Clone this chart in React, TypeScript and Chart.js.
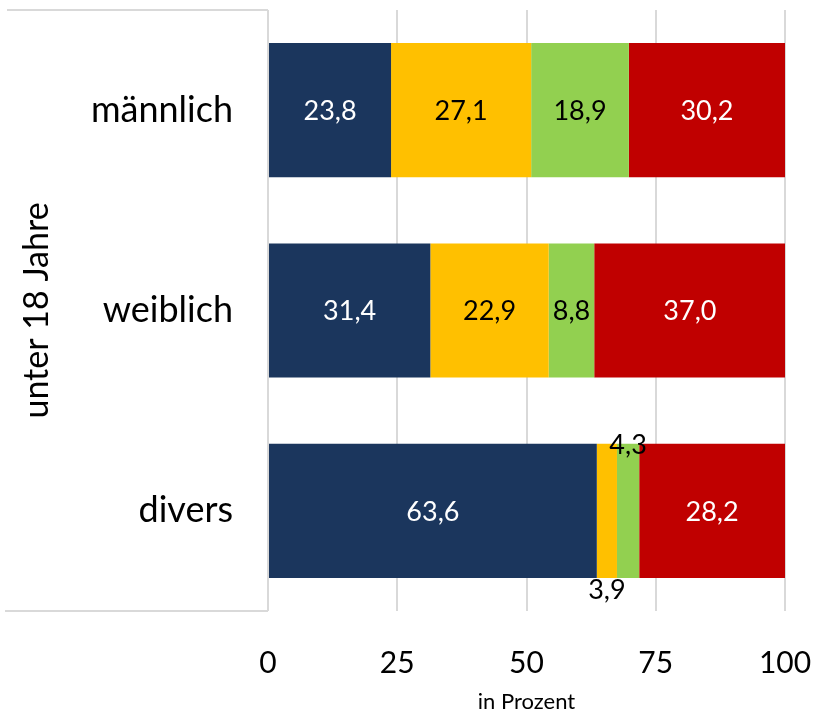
import React, { useEffect, useRef } from 'react';
import { Chart, registerables } from 'chart.js';

Chart.register(...registerables);

const categories = ['männlich', 'weiblich', 'divers'];
const groupLabel = 'unter 18 Jahre';
const seriesNames = ['Kategorie 1', 'Kategorie 2', 'Kategorie 3', 'Kategorie 4'];
const series1 = [23.8, 31.4, 63.6];
const series2 = [27.1, 22.9, 3.9];
const series3 = [18.9, 8.8, 4.3];
const series4 = [30.2, 37.0, 28.2];
const seriesColors = ['#1b365d', '#ffc000', '#92d050', '#c00000'];
const labelColors = ['#ffffff', '#000000', '#000000', '#ffffff'];
const xTicks = [0, 25, 50, 75, 100];
const axisTitle = 'in Prozent';

const FONT = 'Lato, "Open Sans", sans-serif';
const GRID = '#d9d9d9';

const zeroPadding = (scale: any) => {
  scale.paddingTop = 0;
  scale.paddingBottom = 0;
  scale.paddingLeft = 0;
  scale.paddingRight = 0;
};

const labelsPlugin = {
  id: 'barLabels',
  afterDatasetsDraw(chart: any) {
    const ctx = chart.ctx;
    ctx.save();
    ctx.font = `27px ${FONT}`;
    ctx.textAlign = 'center';
    ctx.textBaseline = 'middle';
    chart.data.datasets.forEach((ds: any, di: number) => {
      const meta = chart.getDatasetMeta(di);
      meta.data.forEach((el: any, i: number) => {
        const v = ds.data[i] as number;
        const txt = v.toFixed(1).replace('.', ',');
        const { x, y, base, height } = el.getProps(['x', 'y', 'base', 'height'], true);
        const w = Math.abs(x - base);
        const tw = ctx.measureText(txt).width;
        let cx = (x + base) / 2;
        let cy = y + 1;
        let color = labelColors[di];
        if (tw + 4 > w) {
          color = '#000000';
          if (di % 2 === 1) cy = y + height / 2 + 12;
          else cy = y - height / 2 + 2;
        }
        ctx.fillStyle = color;
        ctx.fillText(txt, cx, cy);
      });
    });
    ctx.restore();
  },
};

const groupPlugin = {
  id: 'groupBox',
  afterDraw(chart: any) {
    const { ctx, chartArea } = chart;
    ctx.save();
    ctx.strokeStyle = GRID;
    ctx.lineWidth = 2;
    ctx.beginPath();
    ctx.moveTo(7, chartArea.top);
    ctx.lineTo(chartArea.left, chartArea.top);
    ctx.moveTo(5, chartArea.bottom);
    ctx.lineTo(chartArea.left, chartArea.bottom);
    ctx.stroke();
    ctx.translate(37, (chartArea.top + chartArea.bottom) / 2);
    ctx.rotate(-Math.PI / 2);
    ctx.font = `34px ${FONT}`;
    ctx.fillStyle = '#000000';
    ctx.textAlign = 'center';
    ctx.textBaseline = 'middle';
    ctx.fillText(groupLabel, 0, 0);
    ctx.restore();
  },
};

export default function App() {
  const ref = useRef<HTMLCanvasElement>(null);
  useEffect(() => {
    if (!ref.current) return;
    const data = [series1, series2, series3, series4];
    const chart = new Chart(ref.current, {
      type: 'bar',
      data: {
        labels: categories,
        datasets: data.map((d, i) => ({
          label: seriesNames[i],
          data: d,
          backgroundColor: seriesColors[i],
          borderWidth: 0,
          categoryPercentage: 0.67,
          barPercentage: 1,
        })),
      },
      options: {
        indexAxis: 'y',
        responsive: false,
        animation: false,
        layout: { autoPadding: false, padding: { top: 10, right: 30, bottom: 0, left: 0 } },
        plugins: {
          legend: { display: false },
          tooltip: { enabled: false },
        },
        scales: {
          x: {
            stacked: true,
            min: 0,
            max: 100,
            afterBuildTicks: (scale: any) => {
              scale.ticks = xTicks.map((v) => ({ value: v }));
            },
            afterFit: (scale: any) => {
              scale.height = 106;
              zeroPadding(scale);
            },
            grid: { color: GRID, lineWidth: 2, drawTicks: false },
            border: { display: false },
            ticks: {
              padding: 34,
              color: '#000000',
              font: { family: FONT, size: 30 },
              maxRotation: 0,
            },
            title: {
              display: true,
              text: axisTitle,
              color: '#000000',
              font: { family: FONT, size: 22 },
              padding: { top: 10, bottom: 2 },
            },
          },
          y: {
            stacked: true,
            grid: { display: false },
            border: { display: false },
            afterFit: (scale: any) => {
              scale.width = 268;
              zeroPadding(scale);
            },
            ticks: {
              padding: 27,
              color: '#000000',
              font: { family: FONT, size: 36 },
            },
          },
        },
      },
      plugins: [labelsPlugin, groupPlugin],
    });
    return () => chart.destroy();
  }, []);
  return (
    <div style={{ position: 'absolute', left: 0, top: 0, width: 815, height: 717, background: '#fff' }}>
      <canvas ref={ref} width={815} height={717} />
    </div>
  );
}
